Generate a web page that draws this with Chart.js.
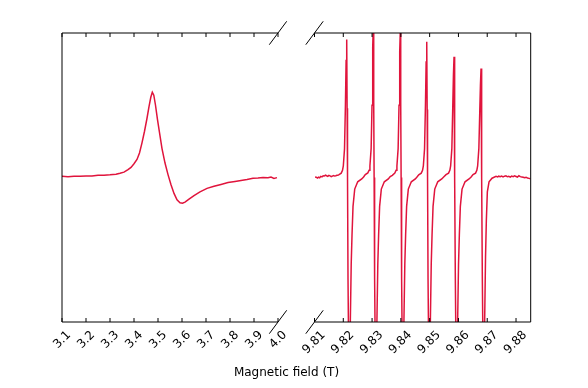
<!DOCTYPE html>
<html>
<head>
<meta charset="utf-8">
<script src="https://cdn.jsdelivr.net/npm/chart.js@4.4.1/dist/chart.umd.min.js"></script>
<style>
  body { margin: 0; background: #fff; }
  #wrap { position: relative; width: 588px; height: 388px; }
  #wrap canvas { position: absolute; left: 0; top: 0; }
  #xlabel { position: absolute; left: 0; width: 573px; top: 365px; text-align: center;
            font: 12px "DejaVu Sans"; color: #000; }
</style>
</head>
<body>
<div id="wrap">
  <canvas id="left" width="588" height="388"></canvas>
  <canvas id="right" width="588" height="388"></canvas>
  <div id="xlabel">Magnetic field (T)</div>
</div>
<script>
// left panel: broad line
var leftField = [3.1000, 3.1250, 3.1500, 3.1750, 3.2000, 3.2250, 3.2500, 3.2750, 3.3000, 3.3250,
  3.3417, 3.3583, 3.3750, 3.3875, 3.4000, 3.4125, 3.4229, 3.4333, 3.4438, 3.4542,
  3.4625, 3.4700, 3.4763, 3.4825, 3.4896, 3.4979, 3.5063, 3.5167, 3.5292, 3.5417,
  3.5542, 3.5667, 3.5792, 3.5917, 3.6021, 3.6125, 3.6292, 3.6500, 3.6750, 3.7042,
  3.7333, 3.7625, 3.7917, 3.8208, 3.8458, 3.8708, 3.8958, 3.9167, 3.9375, 3.9583,
  3.9708, 3.9833, 3.9958];
var leftSignal = [0.008, 0.006, 0.009, 0.008, 0.011, 0.010, 0.015, 0.016, 0.019, 0.023,
  0.029, 0.037, 0.055, 0.07, 0.095, 0.125, 0.17, 0.24, 0.32, 0.41,
  0.49, 0.555, 0.59, 0.57, 0.5, 0.40, 0.31, 0.2, 0.1, 0.02,
  -0.05, -0.11, -0.155, -0.175, -0.178, -0.17, -0.15, -0.125, -0.1, -0.075,
  -0.06, -0.048, -0.035, -0.027, -0.02, -0.014, -0.005, -0.003, 0.0, -0.001,
  0.003, -0.006, -0.001];

// right panel: six narrow lines
var rightField = [
  9.8102, 9.8106, 9.8110, 9.8114, 9.8118, 9.8122, 9.8126, 9.8130, 9.8134, 9.8138, 9.8142,
  9.8146, 9.8150, 9.8154, 9.8158, 9.8162, 9.8166, 9.8170, 9.8174, 9.8178, 9.8181,
  9.81841, 9.81928, 9.81973, 9.82001, 9.82043, 9.82074, 9.82098, 9.82119, 9.82133, 9.82147,
  9.82164, 9.82206, 9.82244, 9.82275, 9.82303, 9.82338, 9.82397, 9.82501, 9.82640, 9.82705,
  9.82765, 9.82852, 9.82897, 9.82925, 9.82967, 9.82998, 9.83022, 9.83043, 9.83057, 9.83071,
  9.83088, 9.83130, 9.83168, 9.83199, 9.83227, 9.83262, 9.83321, 9.83425, 9.83564, 9.83630,
  9.83703, 9.83790, 9.83835, 9.83863, 9.83905, 9.83936, 9.83960, 9.83981, 9.83995, 9.84009,
  9.84026, 9.84068, 9.84106, 9.84137, 9.84165, 9.84200, 9.84259, 9.84363, 9.84502, 9.84560,
  9.84621, 9.84708, 9.84753, 9.84781, 9.84823, 9.84854, 9.84878, 9.84899, 9.84913, 9.84927,
  9.84944, 9.84986, 9.85024, 9.85055, 9.85083, 9.85118, 9.85177, 9.85281, 9.85420, 9.85495,
  9.85569, 9.85656, 9.85701, 9.85729, 9.85771, 9.85802, 9.85826, 9.85847, 9.85861, 9.85875,
  9.85892, 9.85934, 9.85972, 9.86003, 9.86031, 9.86066, 9.86125, 9.86229, 9.86368, 9.86440,
  9.86507, 9.86594, 9.86639, 9.86667, 9.86709, 9.86740, 9.86764, 9.86785, 9.86799, 9.86813,
  9.86830, 9.86872, 9.86910, 9.86941, 9.86969, 9.87004, 9.87063, 9.87167, 9.87306,
  9.8736, 9.8740, 9.8745, 9.8750, 9.8755, 9.8760, 9.8765, 9.8770, 9.8775, 9.8780, 9.8785, 9.8790,
  9.8795, 9.8800, 9.8805, 9.8810, 9.8815, 9.8820, 9.8825, 9.8830, 9.8835, 9.8840, 9.8845, 9.8850
];
var rightSignal = [
  0.004, 0.002, -0.004, 0.003, -0.002, 0.008, 0.004, 0.012, 0.01, 0.016, 0.012,
  0.008, 0.015, 0.011, 0.006, 0.01, 0.014, 0.01, 0.012, 0.015, 0.016,
  0.018, 0.03, 0.05, 0.08, 0.2, 0.5, 0.81, 0.955, 0.48, 0,
  -0.7, -1.6, -1.0, -0.6, -0.4, -0.2, -0.08, -0.03, -0.01, 0.004,
  0.02, 0.032, 0.05, 0.08, 0.2, 0.5, 0.9, 1.06, 0.53, 0,
  -0.7, -1.6, -1.0, -0.6, -0.4, -0.2, -0.08, -0.03, -0.01, 0.006,
  0.015, 0.03, 0.05, 0.08, 0.2, 0.5, 0.87, 1.02, 0.51, 0,
  -0.7, -1.6, -1.0, -0.6, -0.4, -0.2, -0.08, -0.03, -0.01, 0.003,
  0.018, 0.03, 0.05, 0.08, 0.2, 0.5, 0.8, 0.94, 0.47, 0,
  -0.7, -1.6, -1.0, -0.6, -0.4, -0.2, -0.08, -0.03, -0.01, 0.005,
  0.02, 0.03, 0.05, 0.08, 0.2, 0.48, 0.71, 0.835, 0.42, 0,
  -0.7, -1.6, -1.0, -0.6, -0.4, -0.2, -0.08, -0.03, -0.01, 0.004,
  0.02, 0.03, 0.05, 0.08, 0.2, 0.45, 0.64, 0.755, 0.38, 0,
  -0.7, -1.6, -1.0, -0.55, -0.3, -0.1, -0.03, -0.005, 0.008,
  0.004, 0.009, 0.005, 0.01, 0.004, 0.009, 0.012, 0.005, 0.008, 0.003, 0.01, 0.006,
  0.011, 0.007, 0.003, 0.012, 0.006, 0.004, 0.002, -0.002, 0.002, -0.004, -0.006, -0.008
];

var leftTicks = [3.1, 3.2, 3.3, 3.4, 3.5, 3.6, 3.7, 3.8, 3.9, 4.0];
var leftLabels = ['3.1', '3.2', '3.3', '3.4', '3.5', '3.6', '3.7', '3.8', '3.9', '4.0'];
var rightTicks = [9.81, 9.82, 9.83, 9.84, 9.85, 9.86, 9.87, 9.88];
var rightLabels = ['9.81', '9.82', '9.83', '9.84', '9.85', '9.86', '9.87', '9.88'];

var lineColor = '#e0143c';

// spines (no inner one), inward ticks and the break marks
var panelFrame = {
  id: 'panelFrame',
  afterDraw: function(chart, args, opts) {
    var ctx = chart.ctx;
    var a = chart.chartArea;
    var xs = chart.scales.x;
    ctx.save();
    ctx.strokeStyle = '#000';
    ctx.lineWidth = 1;
    ctx.beginPath();
    ctx.moveTo(a.left, a.top); ctx.lineTo(a.right, a.top);
    ctx.moveTo(a.left, a.bottom); ctx.lineTo(a.right, a.bottom);
    if (opts.side === 'left') {
      ctx.moveTo(a.left, a.top); ctx.lineTo(a.left, a.bottom);
    } else {
      ctx.moveTo(a.right, a.top); ctx.lineTo(a.right, a.bottom);
    }
    xs.ticks.forEach(function(t) {
      var px = xs.getPixelForValue(t.value);
      ctx.moveTo(px, a.top); ctx.lineTo(px, a.top + 4);
      ctx.moveTo(px, a.bottom); ctx.lineTo(px, a.bottom - 4);
    });
    ctx.stroke();
    var cx = opts.side === 'left' ? a.right : a.left;
    ctx.beginPath();
    [a.top, a.bottom].forEach(function(cy) {
      ctx.moveTo(cx - 8.7, cy + 11.7);
      ctx.lineTo(cx + 8.7, cy - 11.7);
    });
    ctx.stroke();
    ctx.restore();
  }
};

function makePanel(id, field, signal, ticks, labels, min, max, pad, side, labelOffset) {
  var pts = field.map(function(x, i) { return {x: x, y: signal[i]}; });
  return new Chart(document.getElementById(id), {
    type: 'line',
    data: {
      datasets: [{
        data: pts,
        borderColor: lineColor,
        borderWidth: 1.5,
        pointRadius: 0,
        tension: 0,
        fill: false
      }]
    },
    options: {
      responsive: false,
      animation: false,
      layout: { padding: pad },
      plugins: {
        legend: { display: false },
        tooltip: { enabled: false },
        panelFrame: { side: side }
      },
      scales: {
        x: {
          type: 'linear',
          min: min,
          max: max,
          afterBuildTicks: function(s) {
            s.ticks = ticks.map(function(v) { return {value: v}; });
          },
          afterFit: function(s) { s.height = 66; },
          grid: { display: false, drawTicks: false },
          border: { display: false },
          ticks: {
            autoSkip: false,
            minRotation: 45,
            maxRotation: 45,
            padding: 6,
            labelOffset: labelOffset,
            color: '#000',
            font: { family: 'DejaVu Sans', size: 12 },
            callback: function(v, i) { return labels[i]; }
          }
        },
        y: { display: false, min: -1, max: 1 }
      }
    },
    plugins: [panelFrame]
  });
}

makePanel('left', leftField, leftSignal, leftTicks, leftLabels, 3.1, 4.0,
  { left: 62, right: 310, top: 33, bottom: 0 }, 'left', 7);
makePanel('right', rightField, rightSignal, rightTicks, rightLabels, 9.81, 9.8851,
  { left: 314.5, right: 57.3, top: 33, bottom: 0 }, 'right', 9);
</script>
</body>
</html>
